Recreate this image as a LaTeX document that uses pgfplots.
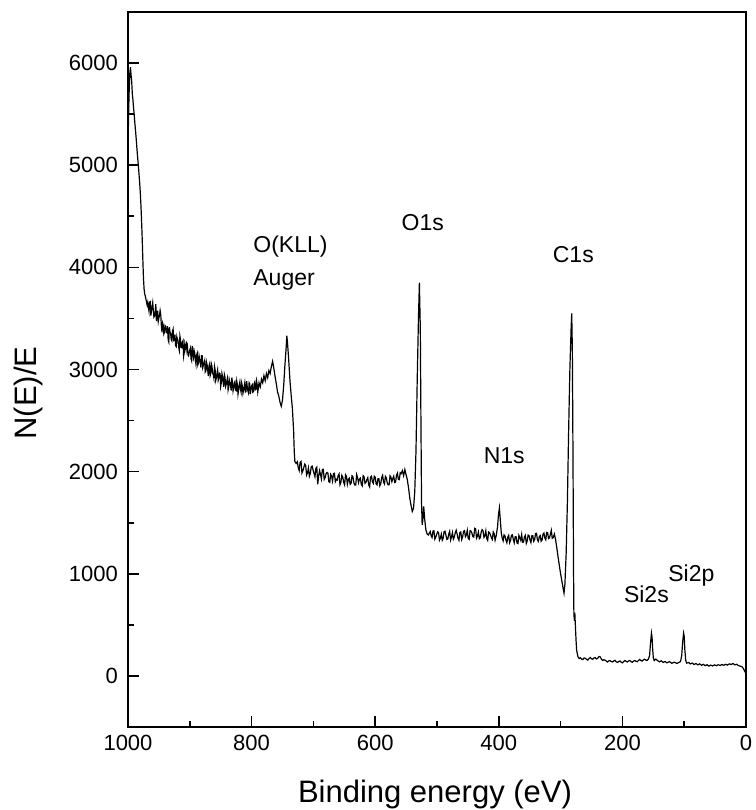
\documentclass[border=0pt]{standalone}
\usepackage{fontspec}
\setmainfont{Liberation Sans}
\usepackage{pgfplots}
\pgfplotsset{compat=1.18}
\pgfplotstableread{
E V
1000 5150
999 5500
998 5750
997 5900
996 5960
995 5880
994 5820
993 5700
992 5640
991 5560
990 5500
989 5420
988 5350
987 5280
986 5200
985 5120
984 5050
983 4980
982 4900
981 4820
980 4720
979 4600
978 4450
977 4280
976 4080
975 3900
974 3790
973 3740
972 3720
971 3690
970 3660
969 3630
968 3658
967 3612
966 3571
965 3660
964 3664
963 3528
962 3572
961 3616
960 3655
959 3579
958 3513
957 3522
956 3566
955 3640
954 3474
953 3518
952 3577
951 3471
950 3505
949 3531
948 3577
947 3538
946 3429
945 3365
944 3456
943 3437
942 3348
941 3364
940 3430
939 3420
938 3365
937 3360
936 3425
935 3290
934 3270
933 3415
932 3365
931 3355
930 3290
929 3280
928 3375
927 3395
926 3285
925 3290
924 3340
923 3235
922 3225
921 3320
920 3295
919 3284
918 3218
917 3187
916 3326
915 3290
914 3214
913 3213
912 3267
911 3281
910 3130
909 3165
908 3255
907 3225
906 3190
905 3260
904 3250
903 3145
902 3135
901 3165
900 3190
899 3210
898 3105
897 3085
896 3230
895 3160
894 3120
893 3185
892 3160
891 3090
890 3050
889 3140
888 3160
887 3045
886 3065
885 3135
884 3100
883 3065
882 3020
881 3135
880 3135
879 3019
878 3043
877 3062
876 3086
875 2975
874 2984
873 3073
872 3047
871 2991
870 2935
869 3035
868 3055
867 2940
866 2960
865 3050
864 3025
863 2960
862 2950
861 2915
860 3030
859 2996
858 2892
857 2918
856 2959
855 2995
854 2896
853 2922
852 2963
851 2959
850 2835
849 2870
848 2960
847 2930
846 2875
845 2830
844 2950
843 2925
842 2835
841 2855
840 2890
839 2917
838 2799
837 2826
836 2898
835 2870
834 2842
833 2794
832 2921
831 2873
830 2790
829 2818
828 2867
827 2880
826 2799
825 2792
824 2886
823 2849
822 2758
821 2796
820 2850
819 2879
818 2809
817 2778
816 2868
815 2837
814 2767
813 2796
812 2831
811 2870
810 2780
809 2785
808 2885
807 2830
806 2790
805 2770
804 2870
803 2860
802 2760
801 2805
800 2840
799 2851
798 2777
797 2783
796 2859
795 2875
794 2801
793 2807
792 2888
791 2854
790 2780
789 2820
788 2870
786 2830
784 2905
782 2870
780 2940
778 2890
776 2960
774 2920
772 2990
770 2960
768 3030
766 3080
764 3010
762 2930
760 2860
758 2780
756 2740
754 2680
752 2640
750 2700
748 2850
746 3050
744 3220
743 3330
742 3270
740 3100
738 2900
736 2750
734 2620
732 2400
731 2200
730 2100
728 2080
726 2097
724.5 2037
723 2011
721.5 2090
720 2100
718.5 1987
717 2009
715.5 2041
714 2073
712.5 2060
711 1967
709.5 1989
708 2036
706.5 1953
705 1980
703.5 2047
702 2054
700.5 2016
699 1983
697.5 1950
696 2032
694.5 2044
693 1876
691.5 1958
690 2010
688.5 1972
687 1929
685.5 2021
684 2023
682.5 1925
681 1942
679.5 1980
678 1992
676.5 1985
675 1902
673.5 1895
672 1973
670.5 1956
669 1908
667.5 1981
666 1984
664.5 1902
663 1924
661.5 1917
660 1960
658.5 1978
657 1872
655.5 1895
654 1964
652.5 1947
651 1896
649.5 1870
648 1969
646.5 1953
645 1877
643.5 1922
642 1936
640.5 1875
639 1885
637.5 1959
636 1949
634.5 1893
633 1868
631.5 1868
630 1972
628.5 1942
627 1892
625.5 1926
624 1936
622.5 1875
621 1860
619.5 1960
618 1950
616.5 1885
615 1895
613.5 1920
612 1940
610.5 1870
609 1850
607.5 1945
606 1955
604.5 1900
603 1885
601.5 1955
600 1945
598.5 1880
597 1871
595.5 1931
594 1931
592.5 1862
591 1882
589.5 1942
588 1963
586.5 1898
585 1879
583.5 1954
582 1940
580.5 1890
579 1871
577.5 1872
576 1959
574.5 1945
573 1902
571.5 1933
570 1955
568.5 1894
567 1898
565.5 1966
564 1985
562.5 1924
561 1922
559.5 1989
558 1980
556 2010
554 1960
552 2020
550 1970
548 1920
546 1840
544 1740
542 1670
540 1610
538 1640
536 1800
534 2200
532 2900
530 3500
528.5 3850
527 3400
526 2500
525 1700
524 1480
523 1520
521.5 1660
520 1540
518 1430
516 1390
514 1380
511 1414
509.5 1372
508 1355
506.5 1418
505 1421
503.5 1339
502 1358
500.5 1386
499 1410
497.5 1405
496 1329
494.5 1349
493 1388
491.5 1328
490 1348
488.5 1412
487 1417
485.5 1377
484 1336
482.5 1341
481 1390
479.5 1416
478 1331
476.5 1362
475 1403
473.5 1338
472 1359
470.5 1400
469 1426
467.5 1391
466 1347
464.5 1328
463 1404
461.5 1409
460 1335
458.5 1361
457 1417
455.5 1422
454 1363
452.5 1379
451 1425
449.5 1345
448 1336
446.5 1422
445 1418
443.5 1398
442 1364
440.5 1360
439 1445
437.5 1440
436 1349
434.5 1369
433 1408
431.5 1343
430 1353
428.5 1407
427 1432
425.5 1421
424 1356
422.5 1371
421 1420
419.5 1344
418 1327
416.5 1410
415 1403
413.5 1380
412 1353
410.5 1336
409 1409
407.5 1391
406 1329
404 1380
402 1460
400.5 1580
399 1645
397.5 1520
396 1400
394.5 1350
393 1322
391.5 1381
390 1370
388.5 1329
387 1303
385.5 1357
384 1376
382.5 1304
381 1328
379.5 1377
378 1381
376.5 1335
375 1304
373.5 1363
372 1362
370.5 1301
369 1296
367.5 1376
366 1352
364.5 1328
363 1384
361.5 1309
360 1310
358.5 1361
357 1377
355.5 1297
354 1323
352.5 1379
351 1375
349.5 1330
348 1306
346.5 1372
345 1373
343.5 1318
342 1334
340.5 1395
339 1396
337.5 1331
336 1317
334.5 1363
333 1374
331.5 1319
330 1330
328.5 1387
327 1399
325.5 1351
324 1333
322.5 1405
321 1402
319.5 1344
318 1351
316.5 1388
315 1425
313.5 1347
312 1353
310 1390
308 1330
306 1250
304 1160
302 1080
300 1000
298 930
296 860
294.5 810
293 900
291 1200
289 1700
287 2400
285 3000
283 3400
282 3550
281 3200
280 2200
279 1000
278.5 600
277.5 540
277 620
276 480
275 350
274 250
272 190
270 170
268 178
266 165
264 160
262 176
260 173
258 162
256 155
254 170
252 181
250 168
248 163
246 175
244 180
242 166
240 172
238 190
236 187
234 165
232 152
230 158
228 154
226 145
224 136
222 148
220 150
218 141
216 137
214 146
212 153
210 139
208 132
206 141
204 146
202 135
200 128
198 140
196 151
194 143
192 137
190 146
188 151
186 140
184 134
182 145
180 150
178 144
176 139
174 152
172 161
170 150
168 146
166 158
164 164
162 155
160 151
158 165
156 200
154.5 320
153 420
152 380
151 260
150 180
148.5 150
146 165
143 150
140 138
137 148
134 132
131 142
128 128
124 140
120 124
116 135
112 122
108 134
106 140
104 200
102.5 330
101 420
100 390
99 260
97.5 150
96 125
93 132
90 118
87 126
84 112
81 122
78 108
75 118
72 104
69 114
66 100
63 110
60 96
57 106
54 98
51 108
48 100
45 110
42 102
39 112
36 104
33 114
30 106
27 118
24 112
21 122
18 108
15 114
12 100
9 96
6 88
4 70
2 45
0 20
}\spectrum
\begin{document}
\begin{tikzpicture}[x=1pt,y=1pt]
\begin{axis}[
  at={(128pt,83pt)}, anchor=south west,
  width=618pt, height=715pt, scale only axis,
  x dir=reverse, xmin=0, xmax=1000, ymin=-500, ymax=6500,
  xtick={0,200,...,1000}, ytick={0,1000,...,6000},
  minor x tick num=1, minor y tick num=1,
  tick pos=left,
  major tick length=11pt, minor tick length=6pt,
  axis line style={line width=1.8pt},
  tick style={black, line width=1.6pt},
  tick label style={font=\fontsize{22}{26}\selectfont, inner sep=0pt},
  xticklabel style={yshift=-8pt},
  yticklabel style={xshift=-10pt},
  /pgf/number format/assume math mode=true,
  /pgf/number format/1000 sep={},
  scaled ticks=false,
]
\addplot[black, line width=1.2pt, mark=none] table[x=E, y=V] {\spectrum};
\begin{scope}[every node/.style={font=\fontsize{23}{27}\selectfont, inner sep=0pt, anchor=base west}]
\node at (axis cs:797.4,4145) {O(KLL)};
\node at (axis cs:797.4,3822) {Auger};
\node at (axis cs:557.5,4360) {O1s};
\node at (axis cs:312.8,4047) {C1s};
\node at (axis cs:424.6,2082) {N1s};
\node at (axis cs:197.7,723) {Si2s};
\node at (axis cs:126,922) {Si2p};
\end{scope}
\end{axis}
\node[font=\fontsize{31}{36}\selectfont, inner sep=0pt, anchor=base] at (435,8) {Binding energy (eV)};
\node[font=\fontsize{31}{36}\selectfont, inner sep=0pt, anchor=base, rotate=90] at (36,417) {N(E)/E};
\pgfresetboundingbox
\path[use as bounding box] (0,0) rectangle (755,810);
\end{tikzpicture}
\end{document}
